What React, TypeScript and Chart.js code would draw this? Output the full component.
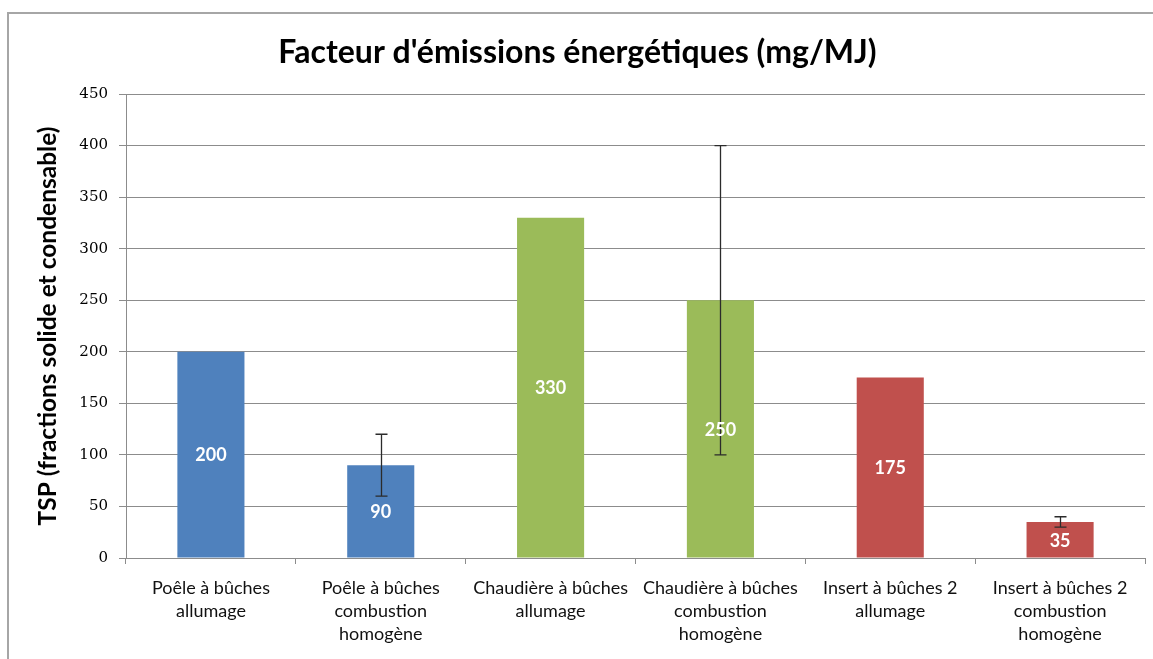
import React, { useEffect, useRef } from "react";
import { Chart, registerables } from "chart.js";

Chart.register(...registerables);

const chartTitle = "Facteur d'émissions énergétiques (mg/MJ)";
const yAxisTitle = "TSP (fractions solide et condensable)";
const categories: string[][] = [
  ["Poêle à bûches", "allumage"],
  ["Poêle à bûches", "combustion", "homogène"],
  ["Chaudière à bûches", "allumage"],
  ["Chaudière à bûches", "combustion", "homogène"],
  ["Insert à bûches 2", "allumage"],
  ["Insert à bûches 2", "combustion", "homogène"],
];
const values = [200, 90, 330, 250, 175, 35];
const errorLow: (number | null)[] = [null, 60, null, 100, null, 30];
const errorHigh: (number | null)[] = [null, 120, null, 400, null, 40];
const barColors = ["#4F81BD", "#4F81BD", "#9BBB59", "#9BBB59", "#C0504D", "#C0504D"];
const yMin = 0;
const yMax = 450;
const yStep = 50;

const errorBarPlugin = {
  id: "errorBars",
  afterDatasetsDraw(chart: any) {
    const meta = chart.getDatasetMeta(0);
    const y = chart.scales.y;
    const ctx = chart.ctx;
    ctx.save();
    ctx.strokeStyle = "#2b2b2b";
    ctx.lineWidth = 1.3;
    meta.data.forEach((bar: any, i: number) => {
      const lo = errorLow[i];
      const hi = errorHigh[i];
      if (lo == null || hi == null) return;
      const x = Math.round(bar.x) + 0.5;
      const yl = y.getPixelForValue(lo);
      const yh = y.getPixelForValue(hi);
      const cap = 6;
      ctx.beginPath();
      ctx.moveTo(x, yl);
      ctx.lineTo(x, yh);
      ctx.moveTo(x - cap, yl);
      ctx.lineTo(x + cap, yl);
      ctx.moveTo(x - cap, yh);
      ctx.lineTo(x + cap, yh);
      ctx.stroke();
    });
    ctx.restore();
  },
};

const valueLabelPlugin = {
  id: "valueLabels",
  afterDatasetsDraw(chart: any) {
    const meta = chart.getDatasetMeta(0);
    const ctx = chart.ctx;
    ctx.save();
    ctx.fillStyle = "#ffffff";
    ctx.font = "bold 18px Lato";
    ctx.textAlign = "center";
    ctx.textBaseline = "middle";
    meta.data.forEach((bar: any, i: number) => {
      const cy = (bar.y + bar.base) / 2;
      ctx.fillText(String(values[i]), bar.x, cy + 1);
    });
    ctx.restore();
  },
};

export default function App() {
  const canvasRef = useRef<HTMLCanvasElement | null>(null);

  useEffect(() => {
    const canvas = canvasRef.current;
    if (!canvas) return;
    const chart = new Chart(canvas, {
      type: "bar",
      data: {
        labels: categories,
        datasets: [
          {
            data: values,
            backgroundColor: barColors,
            borderWidth: 0,
            barPercentage: 0.395,
            categoryPercentage: 1,
          },
        ],
      },
      options: {
        animation: false,
        responsive: false,
        maintainAspectRatio: false,
        layout: { padding: { left: 10, right: 8, top: 0, bottom: 0 } },
        plugins: {
          legend: { display: false },
          tooltip: { enabled: false },
          title: {
            display: true,
            text: chartTitle,
            color: "#000000",
            font: { family: "Lato", size: 32, weight: "bold", lineHeight: 1.2 },
            padding: { top: 33, bottom: 22.6 },
          },
        },
        scales: {
          x: {
            offset: true,
            grid: {
              display: true,
              drawOnChartArea: false,
              drawTicks: true,
              tickLength: 6,
              color: "#8c8c8c",
              offset: true,
            },
            border: { display: true, color: "#8c8c8c" },
            ticks: {
              color: "#111111",
              font: { family: "Lato", size: 18, lineHeight: 23 / 18 },
              padding: 13,
              maxRotation: 0,
              autoSkip: false,
            },
            afterFit(scale: any) {
              scale.height = 101;
            },
          },
          y: {
            min: yMin,
            max: yMax,
            ticks: {
              stepSize: yStep,
              color: "#000000",
              font: { family: "DejaVu Serif", size: 15 },
              padding: 11,
            },
            grid: {
              color: "#8c8c8c",
              tickLength: 7,
              drawTicks: true,
            },
            border: { display: true, color: "#8c8c8c" },
            title: {
              display: true,
              text: yAxisTitle,
              color: "#000000",
              font: { family: "Lato", size: 24.5, weight: "bold", lineHeight: 1.2 },
              padding: { top: 23.3, bottom: 0 },
            },
            afterFit(scale: any) {
              scale.width = 116;
            },
          },
        },
      },
      plugins: [errorBarPlugin, valueLabelPlugin],
    } as any);
    return () => chart.destroy();
  }, []);

  return (
    <div style={{ position: "absolute", left: 0, top: 0, width: 1153, height: 659, background: "#ffffff", overflow: "hidden" }}>
      <div
        style={{
          position: "absolute",
          left: 7,
          top: 12,
          width: 1160,
          height: 700,
          borderLeft: "2px solid #a6a6a6",
          borderTop: "2px solid #a6a6a6",
        }}
      />
      <canvas ref={canvasRef} width={1153} height={659} style={{ position: "absolute", left: 0, top: 0, display: "block" }} />
    </div>
  );
}
